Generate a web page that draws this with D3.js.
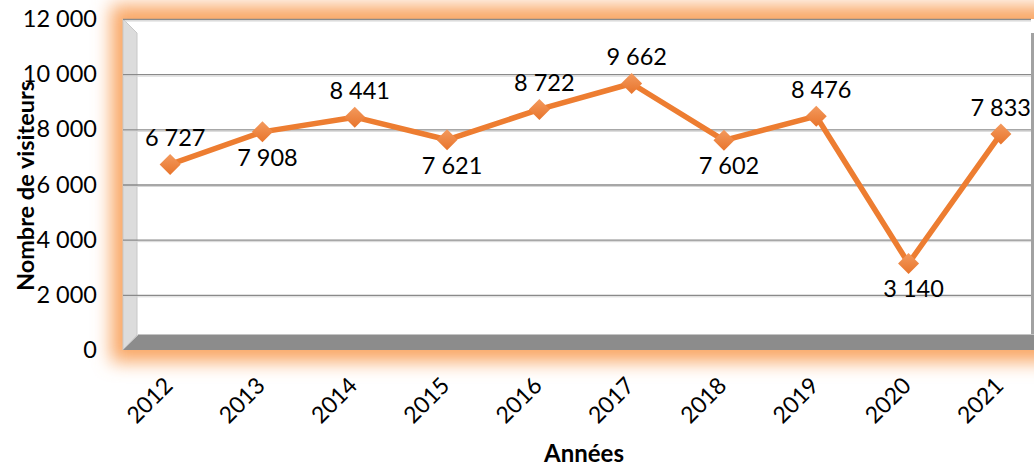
<!DOCTYPE html>
<html>
<head>
<meta charset="utf-8">
<script src="https://cdn.jsdelivr.net/npm/d3@7"></script>
<style>
  body { margin: 0; background: #fff; }
  svg { display: block; font-family: Lato, "Open Sans", sans-serif; }
</style>
</head>
<body>
<div id="chart"></div>
<script>
const years = ['2012', '2013', '2014', '2015', '2016', '2017', '2018', '2019', '2020', '2021'];
const visitors = [6727, 7908, 8441, 7621, 8722, 9662, 7602, 8476, 3140, 7833];
const labelSide = ['above', 'below', 'above', 'below', 'above', 'above', 'below', 'above', 'below', 'above'];
const yTicks = [0, 2000, 4000, 6000, 8000, 10000, 12000];

const w = 1034;
const h = 467;
const plot = { left: 123, top: 19, right: 1034, bottom: 350 };
const depth = 14;

const fr = d3.formatLocale({ decimal: ',', thousands: '\u00a0', grouping: [3], currency: ['', ' €'] });
const fmt = fr.format(',d');

const xScale = d3.scalePoint()
  .domain(years)
  .range([124, 1047])
  .padding(0.5);

const yScale = d3.scaleLinear()
  .domain([0, 12000])
  .range([plot.bottom, plot.top]);

const svg = d3.select('#chart')
  .append('svg')
  .attr('width', w)
  .attr('height', h);

const defs = svg.append('defs');
defs.append('filter')
  .attr('id', 'glow')
  .attr('x', '-20%').attr('y', '-30%')
  .attr('width', '140%').attr('height', '160%')
  .append('feGaussianBlur')
  .attr('stdDeviation', 9);

const grad = defs.append('linearGradient')
  .attr('id', 'mk')
  .attr('x1', 0).attr('y1', 0).attr('x2', 0).attr('y2', 1);
grad.append('stop').attr('offset', '0%').attr('stop-color', '#f39a5e');
grad.append('stop').attr('offset', '100%').attr('stop-color', '#e8742b');

// orange glow behind the plot area
svg.append('rect')
  .attr('x', plot.left - 12)
  .attr('y', plot.top - 14)
  .attr('width', plot.right - plot.left + 40)
  .attr('height', plot.bottom - plot.top + 26)
  .attr('fill', '#f9a766')
  .attr('filter', 'url(#glow)');

// plot area
svg.append('rect')
  .attr('x', plot.left)
  .attr('y', plot.top)
  .attr('width', plot.right - plot.left)
  .attr('height', plot.bottom - plot.top)
  .attr('fill', '#fff');

// left wall
svg.append('polygon')
  .attr('points', [
    [plot.left, plot.top], [plot.left + depth, plot.top + depth],
    [plot.left + depth, plot.bottom - 15], [plot.left, plot.bottom]
  ].join(' '))
  .attr('fill', '#dcdcdc')
  .attr('stroke', '#c8c8c8')
  .attr('stroke-width', 1);

// gridlines
const grid = svg.append('g')
  .attr('transform', `translate(${plot.left},0)`)
  .call(d3.axisRight(yScale)
    .tickValues(yTicks.filter(d => d > 0))
    .tickSize(1031 - plot.left)
    .tickFormat(''));
grid.select('.domain').remove();
grid.selectAll('.tick line').attr('stroke', '#8a8a8a').attr('stroke-width', 1.3);
grid.selectAll('.tick').append('line')
  .attr('x2', 1031 - plot.left)
  .attr('y1', 1.5).attr('y2', 1.5)
  .attr('stroke', '#d6d6d6');

// right edge
svg.append('rect')
  .attr('x', 1031)
  .attr('y', plot.top + depth)
  .attr('width', 3)
  .attr('height', plot.bottom - 15 - plot.top - depth)
  .attr('fill', '#a2a2a2');

// floor
svg.append('polygon')
  .attr('points', [
    [plot.left, plot.bottom], [plot.left + 15, plot.bottom - 15],
    [plot.right, plot.bottom - 15], [plot.right, plot.bottom]
  ].join(' '))
  .attr('fill', '#8c8c8c');
svg.append('line')
  .attr('x1', plot.left + 15).attr('x2', plot.right)
  .attr('y1', plot.bottom - 15.5).attr('y2', plot.bottom - 15.5)
  .attr('stroke', '#c4c4c4');

// y axis labels
const yAxis = svg.append('g')
  .attr('transform', 'translate(97,0)')
  .call(d3.axisLeft(yScale)
    .tickValues(yTicks)
    .tickSize(0)
    .tickPadding(0)
    .tickFormat(fmt));
yAxis.select('.domain').remove();
yAxis.selectAll('text')
  .style('font-family', 'Lato, sans-serif')
  .style('font-size', '23.5px')
  .attr('fill', '#000');

// x axis labels
svg.append('g')
  .selectAll('text')
  .data(years)
  .enter()
  .append('text')
  .attr('transform', d => `translate(${xScale(d) + 4},387) rotate(-45)`)
  .attr('text-anchor', 'end')
  .style('font-size', '23px')
  .text(d => d);

// series line
const line = d3.line()
  .x((d, i) => xScale(years[i]))
  .y(d => yScale(d));

svg.append('path')
  .datum(visitors)
  .attr('d', line)
  .attr('fill', 'none')
  .attr('stroke', '#ed7d31')
  .attr('stroke-width', 5.5)
  .attr('stroke-linejoin', 'round');

svg.append('g')
  .selectAll('path')
  .data(visitors)
  .enter()
  .append('path')
  .attr('transform', (d, i) => `translate(${xScale(years[i])},${yScale(d)})`)
  .attr('d', 'M0,-10.5L10.5,0L0,10.5L-10.5,0Z')
  .attr('fill', 'url(#mk)');

// data labels
svg.append('g')
  .selectAll('text')
  .data(visitors)
  .enter()
  .append('text')
  .attr('y', (d, i) => yScale(d) + (labelSide[i] === 'above' ? -18 : 34))
  .attr('text-anchor', 'middle')
  .style('font-size', '23.5px')
  .text(d => fmt(d))
  .attr('x', function (d, i) {
    const half = this.getComputedTextLength() / 2;
    return Math.min(xScale(years[i]) + 5, w - 3 - half);
  });

// axis titles
svg.append('text')
  .attr('x', 584)
  .attr('y', 462)
  .attr('text-anchor', 'middle')
  .style('font-size', '24px')
  .style('font-weight', 'bold')
  .text('Années');

svg.append('text')
  .attr('transform', 'translate(34,186) rotate(-90)')
  .attr('text-anchor', 'middle')
  .style('font-size', '23.5px')
  .style('font-weight', 'bold')
  .text('Nombre de visiteurs');
</script>
</body>
</html>
